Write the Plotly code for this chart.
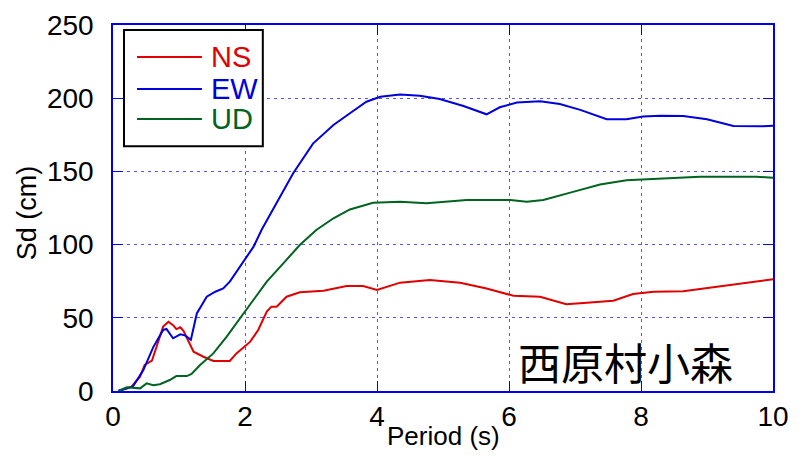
import plotly.graph_objects as go

# ---- data ----
series_names = ["NS", "EW", "UD"]
series_colors = ["#e00000", "#0000dd", "#006420"]

ns_period = [0.08, 0.28, 0.41, 0.48, 0.59, 0.66, 0.76, 0.84, 0.91, 0.96, 1.02, 1.07, 1.14, 1.22,
             1.37, 1.52, 1.77, 1.87, 2.08, 2.2, 2.33, 2.4, 2.48, 2.63, 2.83, 3.19, 3.54, 3.79,
             4.0, 4.35, 4.8, 5.26, 5.66, 6.07, 6.47, 6.87, 7.18, 7.58, 7.88, 8.19, 8.64, 9.15,
             9.65, 10.0]
ns_sd = [0.0, 3.0, 9.8, 17.8, 20.7, 30.0, 44.0, 47.3, 45.0, 42.3, 43.5, 41.0, 34.8, 26.8,
         23.4, 20.5, 20.5, 25.7, 33.7, 41.7, 54.2, 57.6, 57.6, 64.4, 67.4, 68.5, 71.7, 71.7,
         69.0, 74.0, 75.8, 74.0, 70.0, 65.0, 64.4, 59.2, 60.3, 61.7, 66.3, 67.8, 68.2, 71.2,
         74.0, 76.3]

ew_period = [0.08, 0.3, 0.46, 0.61, 0.76, 0.81, 0.91, 1.02, 1.09, 1.18, 1.27, 1.42, 1.55, 1.67,
             1.77, 1.92, 2.13, 2.25, 2.73, 3.03, 3.34, 3.59, 3.84, 4.05, 4.35, 4.65, 4.95,
             5.31, 5.66, 5.86, 6.12, 6.47, 6.77, 7.08, 7.48, 7.78, 8.03, 8.29, 8.64, 9.0, 9.4,
             9.85, 10.0]
ew_sd = [0.0, 3.0, 14.3, 30.0, 41.7, 42.4, 36.0, 38.7, 38.0, 35.0, 53.0, 64.4, 67.8, 70.0,
         74.7, 85.0, 98.6, 110.0, 148.7, 169.0, 181.7, 189.7, 197.6, 201.0, 202.6, 201.7, 199.5,
         194.7, 189.0, 193.8, 197.0, 197.9, 196.0, 192.0, 185.6, 185.6, 187.5, 188.0, 187.8,
         185.6, 181.0, 180.9, 181.2]

ud_period = [0.08, 0.21, 0.41, 0.51, 0.61, 0.71, 0.86, 0.96, 1.12, 1.19, 1.32, 1.52, 1.72, 1.92,
             2.13, 2.33, 2.58, 2.83, 3.08, 3.34, 3.59, 3.94, 4.35, 4.75, 5.36, 6.02, 6.27, 6.52,
             6.97, 7.38, 7.78, 8.19, 8.89, 9.75, 10.0]
ud_sd = [0.0, 2.5, 1.8, 5.2, 4.0, 4.6, 7.5, 10.2, 10.2, 11.6, 17.8, 25.7, 37.0, 49.6, 62.2,
         74.7, 87.2, 99.7, 110.0, 118.0, 124.0, 128.6, 129.3, 128.2, 130.5, 130.5, 129.3, 130.5,
         136.0, 141.0, 144.0, 145.0, 146.4, 146.4, 145.7]

x_ticks = [0, 2, 4, 6, 8, 10]
y_ticks = [0, 50, 100, 150, 200, 250]
x_title = "Period (s)"
y_title = "Sd (cm)"
site_label = "西原村小森"

periods = [ns_period, ew_period, ud_period]
values = [ns_sd, ew_sd, ud_sd]

FONT = "Liberation Sans, Arial, sans-serif"

fig = go.Figure()
for name, color, xs, ys in zip(series_names, series_colors, periods, values):
    fig.add_trace(go.Scatter(x=xs, y=ys, mode="lines", name=name,
                             line=dict(color=color, width=2), showlegend=False))

axis_common = dict(
    showline=True, linecolor="#0000ee", linewidth=1.5, mirror="ticks",
    ticks="inside", ticklen=10, tickcolor="#0000ee", tickwidth=1,
    showgrid=True, gridcolor="#5555ff", gridwidth=1, griddash="3px,4px",
    zeroline=False, tickfont=dict(family=FONT, size=28, color="black"),
)

fig.update_xaxes(range=[0, 10], tickvals=x_ticks, **axis_common)
fig.update_yaxes(range=[0, 250], tickvals=y_ticks, ticklabelstandoff=12, **axis_common)

# custom legend (box, sample lines, coloured labels)
fig.add_shape(type="rect", xref="paper", yref="paper", x0=0.0167, x1=0.227, y0=0.669, y1=0.986,
              line=dict(color="black", width=2), fillcolor="white", layer="above")
legend_rows = [0.9126, 0.825, 0.743]
for name, color, yr in zip(series_names, series_colors, legend_rows):
    fig.add_shape(type="line", xref="paper", yref="paper", x0=0.0364, x1=0.1348, y0=yr, y1=yr,
                  line=dict(color=color, width=2), layer="above")
    fig.add_annotation(xref="paper", yref="paper", x=0.145, y=yr, text=name, showarrow=False,
                       xanchor="left", yanchor="middle",
                       font=dict(family=FONT, size=29, color=color))

# site label
fig.add_annotation(x=7.76, y=20.5, text=site_label, showarrow=False,
                   xanchor="center", yanchor="middle",
                   font=dict(family="Noto Sans CJK JP", size=43, color="black"))

# axis titles
fig.add_annotation(xref="paper", yref="paper", x=0.5015, y=-0.124, text=x_title, showarrow=False,
                   xanchor="center", yanchor="middle", font=dict(family=FONT, size=26, color="black"))
fig.add_annotation(xref="paper", yref="paper", x=-0.130, y=0.486, text=y_title, showarrow=False,
                   textangle=-90, xanchor="center", yanchor="middle",
                   font=dict(family=FONT, size=27, color="black"))

# page has an 8px body margin, so the figure is sized/offset to land on the reference frame
fig.update_layout(
    width=795, height=449,
    margin=dict(l=105, r=30, t=17, b=66, autoexpand=False),
    paper_bgcolor="white", plot_bgcolor="white",
    showlegend=False,
)

fig.write_html("out.html")
